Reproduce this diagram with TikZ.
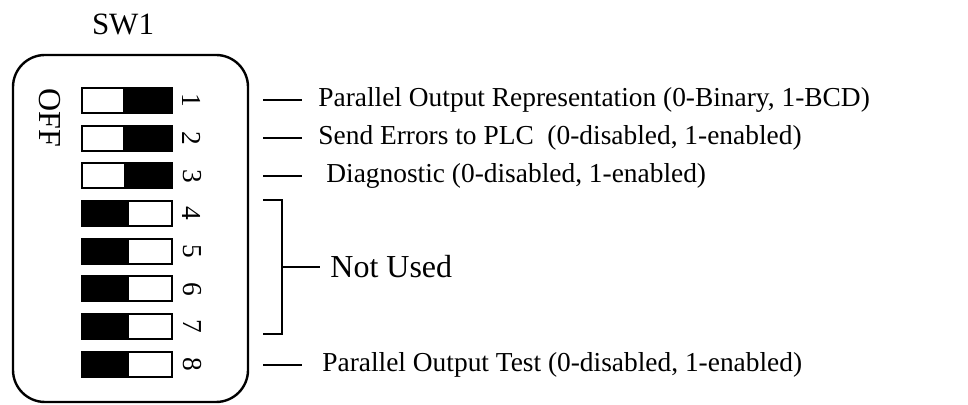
\documentclass[tikz,border=0pt]{standalone}
\usepackage{fontspec}
\setmainfont{Liberation Serif}
\usepackage{tikz}
\usetikzlibrary{positioning}

\begin{document}
\begin{tikzpicture}[x=0.5pt, y=-0.5pt,
    every node/.style={font=\fontsize{13.7}{16}\selectfont},
    bigtext/.style={font=\fontsize{16}{19}\selectfont},
    swbody/.style={rectangle, draw, line width=1pt, minimum width=45pt,
      minimum height=12.5pt, inner sep=0pt},
    knobon/.style={rectangle, fill=black, anchor=east, minimum width=24.5pt,
      minimum height=12.5pt, inner sep=0pt},
    knoboff/.style={rectangle, fill=black, anchor=west, minimum width=23.5pt,
      minimum height=12.5pt, inner sep=0pt},
    swnum/.style={rotate=-90, inner sep=0pt},
    funclabel/.style={anchor=west, inner xsep=8pt, inner ysep=0pt},
    tick/.style={line width=1pt},
  ]
  \useasboundingbox (0,0) rectangle (968,405);

  % Switch housing
  \node[font=\fontsize{15.5}{18}\selectfont] (title) at (123,24) {SW1};
  \draw[line width=1.2pt, rounded corners=16pt] (13,55) rectangle (248,402);
  \node[swnum, bigtext] (off) at (50,118) {OFF};

  % Switches 1-3 on, 4-8 off
  \node[knobon] (k1) at (172,100.5) {};
  \node[swbody] (s1) at (127,100.5) {};
  \node[knobon] (k2) at (172,138.2) {};
  \node[swbody] (s2) at (127,138.2) {};
  \node[knobon, minimum width=24pt] (k3) at (172,175.9) {};
  \node[swbody] (s3) at (127,175.9) {};
  \node[knoboff] (k4) at (82,213.6) {};
  \node[swbody] (s4) at (127,213.6) {};
  \node[knoboff] (k5) at (82,251.3) {};
  \node[swbody] (s5) at (127,251.3) {};
  \node[knoboff] (k6) at (82,289) {};
  \node[swbody] (s6) at (127,289) {};
  \node[knoboff] (k7) at (82,326.7) {};
  \node[swbody] (s7) at (127,326.7) {};
  \node[knoboff] (k8) at (82,364.4) {};
  \node[swbody] (s8) at (127,364.4) {};

  \node[swnum] (n1) at (192,100.5) {1};
  \node[swnum] (n2) at (192,138.2) {2};
  \node[swnum] (n3) at (192,175.9) {3};
  \node[swnum] (n4) at (192,213.6) {4};
  \node[swnum] (n5) at (192,251.3) {5};
  \node[swnum] (n6) at (192,289) {6};
  \node[swnum] (n7) at (192,326.7) {7};
  \node[swnum] (n8) at (192,364.4) {8};

  % Function labels
  \coordinate (t1) at (263,100);
  \coordinate (t2) at (263,138);
  \coordinate (t3) at (263,176);
  \coordinate (t8) at (263,365);
  \node[funclabel] (lab1) at (302,100) {Parallel Output Representation (0-Binary, 1-BCD)};
  \node[funclabel] (lab2) at (302,138) {Send Errors to PLC\ \ (0-disabled, 1-enabled)};
  \node[funclabel, inner xsep=12pt] (lab3) at (302,176) {Diagnostic (0-disabled, 1-enabled)};
  \node[funclabel, inner xsep=10pt] (lab8) at (302,365) {Parallel Output Test (0-disabled, 1-enabled)};
  \draw[tick] (t1) -- (lab1.west);
  \draw[tick] (t2) -- (lab2.west);
  \draw[tick] (t3) -- (lab3.west);
  \draw[tick] (t8) -- (lab8.west);

  % Bracket for unused switches
  \coordinate (bt) at (263,200);
  \coordinate (bb) at (263,334);
  \coordinate (bm) at (282,267);
  \node[funclabel, bigtext, inner xsep=5pt] (lab47) at (320,267) {Not Used};
  \draw[tick] (bt) -| (bb -| bm) -- (bb);
  \draw[tick] (bm) -- (lab47.west);
\end{tikzpicture}
\end{document}
